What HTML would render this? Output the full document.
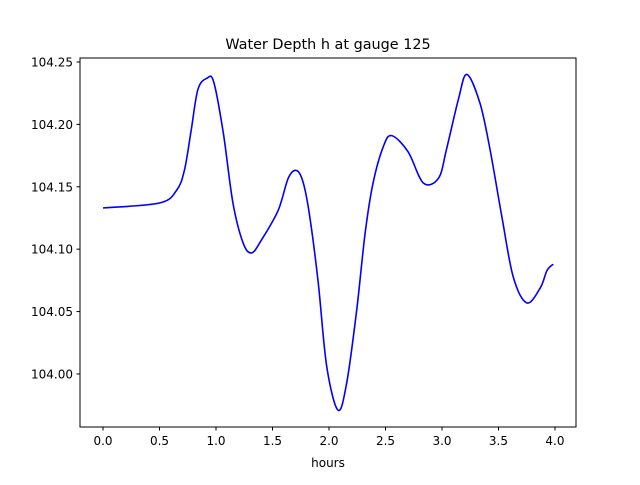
<!DOCTYPE html>
<html><head><meta charset="utf-8"><style>
body{margin:0;background:#fff;}
svg text{font-family:"DejaVu Sans","Liberation Sans",sans-serif;fill:#000;}
</style></head><body>
<svg id="chart" width="640" height="480" xmlns="http://www.w3.org/2000/svg">
<rect width="640" height="480" fill="#fff"/>
<text x="328" y="49" font-size="14.4" text-anchor="middle">Water Depth h at gauge 125</text>
<g id="ticks"></g>
<path id="line" fill="none" stroke="#0000ff" stroke-width="1.6" stroke-linejoin="round"/>
<rect x="80" y="58" width="496" height="369" fill="none" stroke="#000" stroke-width="1"/>
<text x="328" y="467" font-size="12" text-anchor="middle">hours</text>
</svg>
<script>
const hours = [0,0.5,0.65,0.72,0.78,0.84,0.92,0.98,1.065,1.15,1.24,1.315,1.40,1.55,1.64,1.714,1.773,1.83,1.905,1.98,2.08,2.157,2.245,2.32,2.39,2.48,2.555,2.70,2.835,2.97,3.04,3.145,3.22,3.336,3.425,3.53,3.63,3.75,3.87,3.93,3.985];
const depth = [104.133,104.137,104.147,104.163,104.195,104.228,104.237,104.234,104.193,104.137,104.105,104.097,104.107,104.131,104.157,104.163,104.153,104.126,104.073,104.006,103.971,103.993,104.051,104.113,104.153,104.182,104.191,104.178,104.153,104.157,104.180,104.220,104.240,104.217,104.180,104.126,104.078,104.057,104.069,104.083,104.088];
const xTicks = [0,0.5,1,1.5,2,2.5,3,3.5,4];
const xTickLabels = ["0.0","0.5","1.0","1.5","2.0","2.5","3.0","3.5","4.0"];
const yTicks = [104.00,104.05,104.10,104.15,104.20,104.25];
const yTickLabels = ["104.00","104.05","104.10","104.15","104.20","104.25"];

const X0=80,X1=576,Y0=427,Y1=58;
const xMin=-0.2035,xMax=4.186,yMin=103.9575,yMax=104.2532;
function sx(v){return X0+(v-xMin)/(xMax-xMin)*(X1-X0);}
function sy(v){return Y0-(v-yMin)/(yMax-yMin)*(Y0-Y1);}
const NS="http://www.w3.org/2000/svg";
const g=document.getElementById('ticks');
xTicks.forEach((t,i)=>{
  const x=sx(t);
  const l=document.createElementNS(NS,'line');
  l.setAttribute('x1',x);l.setAttribute('x2',x);l.setAttribute('y1',Y0);l.setAttribute('y2',Y0+3.5);
  l.setAttribute('stroke','#000');
  
  
  g.appendChild(l);
  const tx=document.createElementNS(NS,'text');
  tx.setAttribute('x',x);tx.setAttribute('y',Y0+18);tx.setAttribute('font-size','12');tx.setAttribute('text-anchor','middle');
  tx.textContent=xTickLabels[i];
  
  
  g.appendChild(tx);
});
yTicks.forEach((t,i)=>{
  const y=sy(t);
  const l=document.createElementNS(NS,'line');
  l.setAttribute('x1',X0-3.5);l.setAttribute('x2',X0);l.setAttribute('y1',y);l.setAttribute('y2',y);
  l.setAttribute('stroke','#000');
  
  
  g.appendChild(l);
  const tx=document.createElementNS(NS,'text');
  tx.setAttribute('x',X0-7);tx.setAttribute('y',y+4.5);tx.setAttribute('font-size','12');tx.setAttribute('text-anchor','end');
  tx.textContent=yTickLabels[i];
  
  
  g.appendChild(tx);
});
const pts=hours.map((h,i)=>[sx(h),sy(depth[i])]);
let d='M'+pts[0][0]+','+pts[0][1];
for(let i=0;i<pts.length-1;i++){
  const p0=pts[Math.max(0,i-1)],p1=pts[i],p2=pts[i+1],p3=pts[Math.min(pts.length-1,i+2)];
  const c1=[p1[0]+(p2[0]-p0[0])/6,p1[1]+(p2[1]-p0[1])/6];
  const c2=[p2[0]-(p3[0]-p1[0])/6,p2[1]-(p3[1]-p1[1])/6];
  d+=' C'+c1[0]+','+c1[1]+' '+c2[0]+','+c2[1]+' '+p2[0]+','+p2[1];
}
document.getElementById('line').setAttribute('d',d);
</script>
</body></html>
